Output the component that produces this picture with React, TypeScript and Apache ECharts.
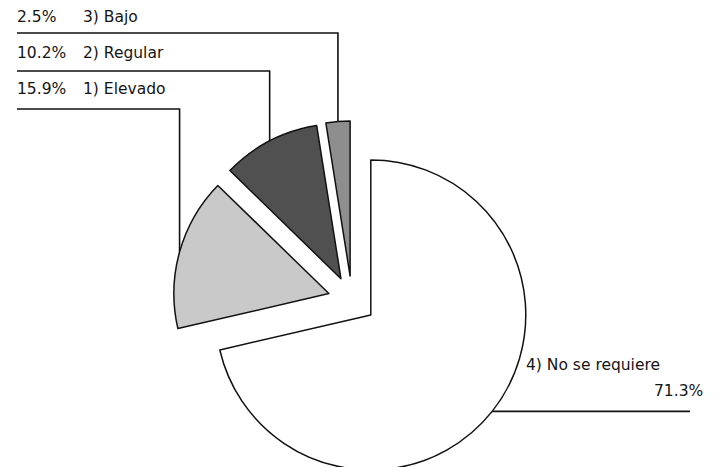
import React, { useEffect, useRef } from "react";
import * as echarts from "echarts";

// ---- data ----
const categories = ["4) No se requiere", "1) Elevado", "2) Regular", "3) Bajo"];
const percentages = [71.3, 15.9, 10.2, 2.5];

// ---- layout / style ----
const W = 722;
const H = 467;
const CX = 352;
const CY = 300;
const R = 155;
const OFF = 24;
const FONT = "DejaVu Sans";
const FS = 15.5;
const sliceColors = ["#ffffff", "#c9c9c9", "#505050", "#8e8e8e"];
// rows of the left-hand labels (by data index)
const rowText: Record<number, number> = { 1: 89, 2: 53, 3: 17 };
const rowLine: Record<number, number> = { 1: 109, 2: 71, 3: 33 };

const total = percentages.reduce((a, b) => a + b, 0);
function midAngle(i: number) {
  let start = 0;
  for (let k = 0; k < i; k++) start += percentages[k];
  return ((start + percentages[i] / 2) / total) * Math.PI * 2;
}
function pieCenter(i: number) {
  const a = midAngle(i);
  return [CX + OFF * Math.sin(a), CY - OFF * Math.cos(a)];
}
function midPoint(i: number) {
  const a = midAngle(i);
  const [pcx, pcy] = pieCenter(i);
  return [pcx + R * Math.sin(a), pcy - R * Math.cos(a)];
}

const fmt = (v: number) => v.toFixed(1) + "%";

export default function App() {
  const ref = useRef<HTMLDivElement>(null);
  useEffect(() => {
    if (!ref.current) return;
    const chart = echarts.init(ref.current, null, { renderer: "svg" });
    const textCommon = { fontFamily: FONT, fontSize: FS, color: "#151515" };
    const series = categories.map((_, si) => ({
      type: "pie",
      silent: true,
      center: pieCenter(si),
      radius: [0, R],
      startAngle: 90,
      clockwise: true,
      avoidLabelOverlap: false,
      emphasis: { disabled: true },
      labelLine: {
        show: true,
        smooth: false,
        lineStyle: { color: "#111111", width: 1.6 },
      },
      label: {
        show: true,
        position: "outside",
        ...textCommon,
        formatter: (p: any) => {
          const pct = fmt(p.value);
          if (p.dataIndex === 0) return `{a|${p.name}}\n{b|${pct}}`;
          return `{p|${pct}}{n|${p.name}}`;
        },
        rich: {
          a: { ...textCommon, lineHeight: 26 },
          b: { ...textCommon, lineHeight: 26, padding: [0, 0, 0, 128] },
          p: { ...textCommon, width: 66 },
          n: { ...textCommon },
        },
      },
      labelLayout: (params: any) => {
        const i = params.dataIndex;
        if (i !== si) return {};
        const [mx, my] = midPoint(i);
        if (i === 0) {
          return {
            x: 526,
            y: 378,
            align: "left",
            verticalAlign: "middle",
            labelLinePoints: [
              [mx, my],
              [690, my],
            ],
          };
        }
        return {
          x: 17,
          y: rowText[i],
          align: "left",
          verticalAlign: "middle",
          labelLinePoints: [
            [mx, my],
            [mx, rowLine[i]],
            [17, rowLine[i]],
          ],
        };
      },
      data: categories.map((name, i) =>
        i === si
          ? {
              name,
              value: percentages[i],
              itemStyle: {
                color: sliceColors[i],
                borderColor: "#111111",
                borderWidth: 1.5,
              },
            }
          : {
              name,
              value: percentages[i],
              itemStyle: { color: "rgba(0,0,0,0)", borderWidth: 0 },
              label: { show: false },
              labelLine: { show: false },
            }
      ),
    }));
    chart.setOption({
      animation: false,
      backgroundColor: "#ffffff",
      series,
    });
    return () => chart.dispose();
  }, []);
  return (
    <div
      ref={ref}
      style={{ position: "fixed", left: 0, top: 0, width: W, height: H }}
    />
  );
}
